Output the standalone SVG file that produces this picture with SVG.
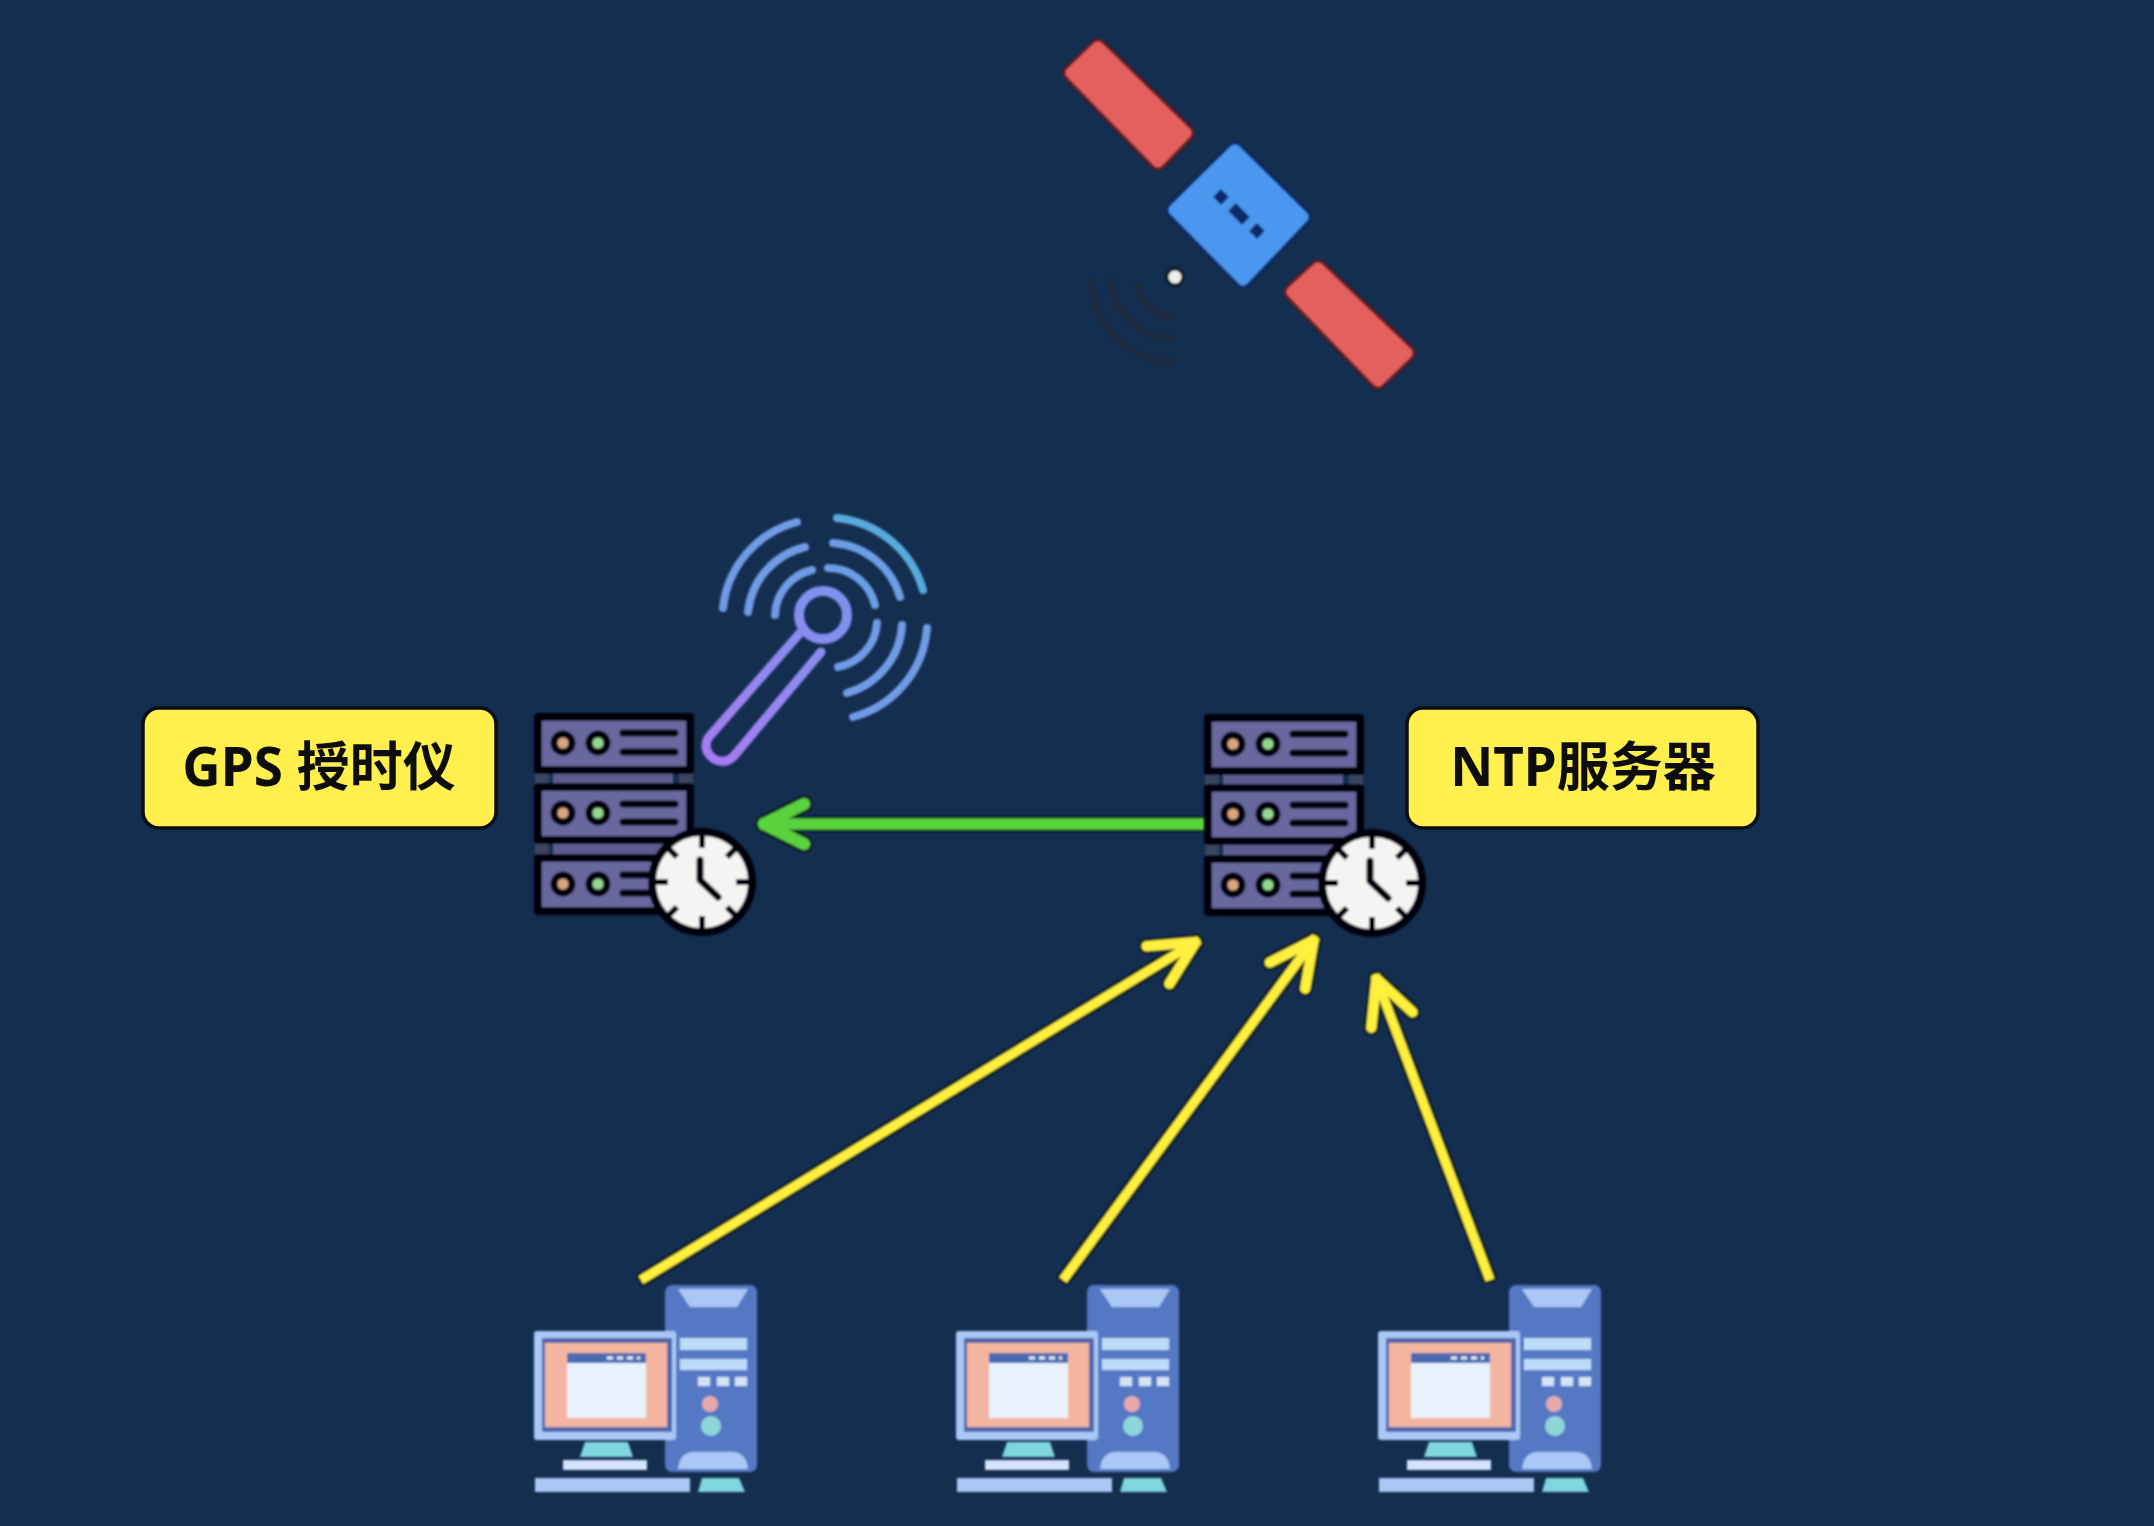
<svg xmlns="http://www.w3.org/2000/svg" xmlns:xlink="http://www.w3.org/1999/xlink" width="2154" height="1526" viewBox="0 0 2154 1526">
<style>
.rack{fill:#68679f;stroke:#05050f;stroke-width:8;stroke-linejoin:round}
.bar{fill:#5d5c90}
.leg{fill:#3a4560}
.led{stroke:#05050f;stroke-width:7}
.ln{stroke:#05050f;stroke-width:7;stroke-linecap:round;fill:none}
.face{fill:#f6f4f2;stroke:#05050f;stroke-width:8}
.tick{stroke:#05050f;stroke-width:6;fill:none}
.hand{stroke:#05050f;stroke-width:7;stroke-linecap:round;stroke-linejoin:round;fill:none}
.lbl{fill:#fff04d;stroke:#0a0f14;stroke-width:3.5}
.ltx{font-family:"Noto Sans","Noto Sans CJK SC",sans-serif;font-weight:700;font-size:53px;fill:#0b0b0b;text-anchor:middle}
.wave{fill:none;stroke-width:8;stroke-linecap:round}
.dk{fill:none;stroke:#1b2a3c;stroke-width:7;stroke-linecap:round}
.po{fill:#641b20;stroke:#641b20;stroke-width:17;stroke-linejoin:round}
.pi{fill:#e4605f;stroke:#e4605f;stroke-width:11;stroke-linejoin:round}
.bo{fill:#0b2a66;stroke:#0b2a66;stroke-width:17;stroke-linejoin:round}
.bi{fill:#4c97f0;stroke:#4c97f0;stroke-width:11;stroke-linejoin:round}
.sdot{fill:none;stroke:#0a2a6a;stroke-width:11}
.yl{stroke:#fff03e;stroke-width:9;fill:none}
.gr{stroke:#5ad23c;stroke-width:11;fill:none}
</style>
<defs>
<filter id="soft" x="-5%" y="-5%" width="110%" height="110%"><feGaussianBlur stdDeviation="1.2"/></filter>
<filter id="txt" x="-5%" y="-5%" width="110%" height="110%"><feGaussianBlur stdDeviation="0.6"/></filter>
<filter id="edge" filterUnits="userSpaceOnUse" x="0" y="0" width="2154" height="1526">
<feMorphology in="SourceAlpha" operator="dilate" radius="1.6" result="d"/>
<feFlood flood-color="#0c1a20"/><feComposite in2="d" operator="in" result="o"/>
<feMerge result="m"><feMergeNode in="o"/><feMergeNode in="SourceGraphic"/></feMerge>
<feGaussianBlur in="m" stdDeviation="1"/>
</filter>
<marker id="ay" markerUnits="userSpaceOnUse" markerWidth="80" markerHeight="80" viewBox="-64 -40 80 80" refX="4" refY="0" orient="auto">
<path d="M-44,-22 L0,0 L-44,22" fill="none" stroke="#fff03e" stroke-width="10" stroke-linecap="round" stroke-linejoin="round"/>
</marker>
<marker id="ag" markerUnits="userSpaceOnUse" markerWidth="80" markerHeight="80" viewBox="-64 -40 80 80" refX="4" refY="0" orient="auto">
<path d="M-40,-20 L0,0 L-40,20" fill="none" stroke="#5ad23c" stroke-width="12" stroke-linecap="round" stroke-linejoin="round"/>
</marker>
<linearGradient id="ant" gradientUnits="userSpaceOnUse" x1="710" y1="760" x2="850" y2="590"><stop offset="0" stop-color="#a77cf2"/><stop offset="1" stop-color="#7b93ee"/></linearGradient>
<polygon id="pa" points="1098,47 1186,133 1158,162 1071,73"/>
<polygon id="pb" points="1318,268 1407,353 1378,381 1292,292"/>
<polygon id="bd" points="1235,150 1303,217 1243,280 1174,210"/>
<g id="server">
<rect class="leg" x="535" y="774" width="14" height="10"/><rect class="leg" x="679" y="774" width="14" height="10"/>
<rect class="leg" x="535" y="844" width="14" height="10"/>
<rect class="bar" x="553" y="773" width="120" height="10"/>
<rect class="bar" x="553" y="844" width="120" height="10"/>
<rect class="rack" x="538" y="717" width="152" height="53"/>
<rect class="rack" x="538" y="787" width="152" height="53"/>
<rect class="rack" x="538" y="858" width="152" height="53"/>
<circle class="led" cx="563" cy="743" r="9" fill="#d9a67e"/><circle class="led" cx="598" cy="743" r="9" fill="#94d88f"/>
<circle class="led" cx="563" cy="813" r="9" fill="#d9a67e"/><circle class="led" cx="598" cy="813" r="9" fill="#94d88f"/>
<circle class="led" cx="563" cy="884" r="9" fill="#d9a67e"/><circle class="led" cx="598" cy="884" r="9" fill="#94d88f"/>
<path class="ln" d="M623,733H675M623,752H675M623,804H675M623,822H675M623,875H675M623,893H675"/>
<circle class="face" cx="702" cy="882" r="50"/>
<path class="tick" d="M702,835V848M702,916V929M655,882H668M736,882H749M669,849L677,857M735,849L727,857M669,915L677,907M735,915L727,907"/>
<path class="hand" d="M700,860V880L718,897"/>
</g>
<g id="pc">
<rect x="665" y="1285" width="92" height="187" rx="7" fill="#5578c4"/>
<path d="M678,1289H748L737,1307H690Z" fill="#a9c8f5"/>
<rect x="680" y="1338" width="67" height="12" fill="#bcdcfa"/>
<rect x="680" y="1359" width="67" height="11" fill="#bcdcfa"/>
<rect x="698" y="1377" width="12" height="9" fill="#d3e4f8"/><rect x="717" y="1377" width="12" height="9" fill="#d3e4f8"/><rect x="735" y="1377" width="12" height="9" fill="#d3e4f8"/>
<circle cx="710" cy="1404" r="8" fill="#e6a9ac"/><circle cx="711" cy="1426" r="10" fill="#8fd6d8"/>
<path d="M678,1469Q680,1452 694,1452H732Q746,1452 748,1469Z" fill="#a9c8f5"/>
<rect x="534" y="1331" width="142" height="109" rx="3" fill="#a9c8f5"/>
<rect x="542" y="1338" width="130" height="94" fill="#4f68ac"/>
<rect x="545" y="1343" width="122" height="84" fill="#f4b5a0"/>
<rect x="567" y="1353" width="79" height="65" fill="#e8f2fc"/>
<rect x="567" y="1353" width="79" height="10" fill="#4c6bb0"/>
<path d="M607,1358H640" stroke="#e8f2fc" stroke-width="3" stroke-dasharray="6 4"/>
<path d="M585,1442H628L633,1457H580Z" fill="#7fd6de"/>
<rect x="563" y="1460" width="84" height="10" fill="#d3e4fa"/>
<rect x="535" y="1478" width="155" height="14" fill="#a9c8f5"/>
<path d="M702,1478H739L745,1492H698Z" fill="#7fd6de"/>
</g>
</defs>
<rect width="2154" height="1526" fill="#142e50"/>

<g id="connectors" filter="url(#edge)">
<line class="gr" x1="1208" y1="824" x2="760" y2="824" marker-end="url(#ag)"/>
<line class="yl" x1="641" y1="1280" x2="1199" y2="940" marker-end="url(#ay)"/>
<line class="yl" x1="1063" y1="1280" x2="1316" y2="937" marker-end="url(#ay)"/>
<line class="yl" x1="1490" y1="1280" x2="1375" y2="975" marker-end="url(#ay)"/>
</g>

<g id="satellite" filter="url(#soft)">
<use xlink:href="#pa" href="#pa" class="po"/><use xlink:href="#pa" href="#pa" class="pi"/>
<use xlink:href="#pb" href="#pb" class="po"/><use xlink:href="#pb" href="#pb" class="pi"/>
<use xlink:href="#bd" href="#bd" class="bo"/><use xlink:href="#bd" href="#bd" class="bi"/>
<path class="sdot" d="M1217,193L1225,201M1232,207L1246,221M1253,227L1261,235"/>
<circle cx="1175" cy="277" r="8" fill="#f0f0f0" stroke="#10151c" stroke-width="3"/>
<path class="dk" d="M1092,280A82,82 0 0 0 1173,362M1112,280A60,60 0 0 0 1173,338M1138,287A38,38 0 0 0 1173,317"/>
</g>

<g id="gps-antenna" filter="url(#soft)">
<circle cx="823" cy="615" r="24" fill="none" stroke="url(#ant)" stroke-width="10"/>
<path d="M800,633L708,738Q702,750 714,759Q725,765 734,756L821,652" fill="none" stroke="url(#ant)" stroke-width="9" stroke-linecap="round" stroke-linejoin="round"/>
<path class="wave" stroke="#6f9be6" d="M723,608A100,100 0 0 1 797,522M748,612A75,75 0 0 1 805,547M775,615A48,48 0 0 1 812,570"/>
<path class="wave" stroke="#58aadd" d="M837,518A100,100 0 0 1 923,590"/>
<path class="wave" stroke="#6a9ee6" d="M833,543A75,75 0 0 1 900,597M828,568A48,48 0 0 1 875,605"/>
<path class="wave" stroke="#6f9be6" d="M877,623A48,48 0 0 1 838,667M902,625A75,75 0 0 1 847,693M927,628A100,100 0 0 1 853,717"/>
</g>

<g id="gps-server" filter="url(#soft)"><use xlink:href="#server" href="#server"/></g>
<g id="ntp-server" filter="url(#soft)"><use xlink:href="#server" href="#server" transform="translate(670,1)"/></g>

<g id="gps-label" filter="url(#txt)">
<rect class="lbl" x="143" y="708" width="353" height="120" rx="16"/>
<text class="ltx" x="319" y="786">GPS 授时仪</text>
</g>
<g id="ntp-label" filter="url(#txt)">
<rect class="lbl" x="1407" y="708" width="351" height="120" rx="16"/>
<text class="ltx" x="1583" y="786">NTP服务器</text>
</g>

<g id="pc-1" filter="url(#soft)"><use xlink:href="#pc" href="#pc"/></g>
<g id="pc-2" filter="url(#soft)"><use xlink:href="#pc" href="#pc" transform="translate(422,0)"/></g>
<g id="pc-3" filter="url(#soft)"><use xlink:href="#pc" href="#pc" transform="translate(844,0)"/></g>
</svg>
